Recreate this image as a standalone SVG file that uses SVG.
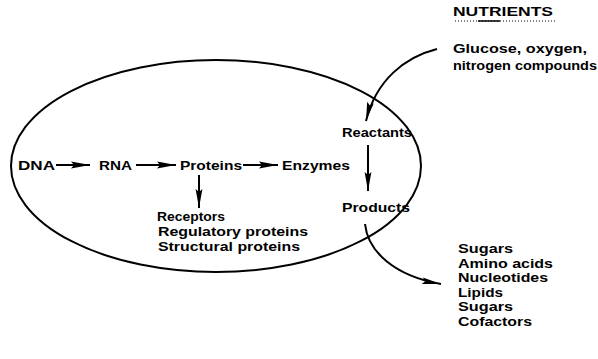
<svg xmlns="http://www.w3.org/2000/svg" width="598" height="359" viewBox="0 0 598 359">
<style>
text{font-family:"Liberation Sans",Arial,sans-serif;font-weight:bold;font-size:13px;fill:#000}
.ln{fill:none;stroke:#000;stroke-width:2}
</style>
<defs>
<marker id="ah" viewBox="0 0 20 8" refX="20" refY="4" markerWidth="20" markerHeight="8" markerUnits="userSpaceOnUse" orient="auto">
<path d="M20,4 L1,0.6 L4,4 L1,7.4 Z" fill="#000"/>
</marker>
</defs>
<rect width="598" height="359" fill="#fff"/>
<g id="cell"><ellipse cx="216" cy="166" rx="205" ry="106" class="ln"/></g>
<g id="nutrients"><text x="453" y="16" textLength="100" lengthAdjust="spacingAndGlyphs">NUTRIENTS</text>
<line x1="455" y1="21" x2="555" y2="21" stroke="#000" stroke-width="1" stroke-dasharray="1,2"/>
<line x1="478" y1="21" x2="500" y2="21" stroke="#000" stroke-width="1.5"/></g>
<g id="inputs"><text x="453" y="53" textLength="134" lengthAdjust="spacingAndGlyphs">Glucose, oxygen,</text>
<text x="453" y="70" textLength="144" lengthAdjust="spacingAndGlyphs">nitrogen compounds</text></g>
<g id="dna"><text x="18" y="170" textLength="37" lengthAdjust="spacingAndGlyphs">DNA</text></g>
<g id="rna"><text x="99" y="170" textLength="33" lengthAdjust="spacingAndGlyphs">RNA</text></g>
<g id="proteins"><text x="180" y="170" textLength="62" lengthAdjust="spacingAndGlyphs">Proteins</text></g>
<g id="enzymes"><text x="282" y="170" textLength="68" lengthAdjust="spacingAndGlyphs">Enzymes</text></g>
<g id="reactants"><text x="342" y="137" textLength="70" lengthAdjust="spacingAndGlyphs">Reactants</text></g>
<g id="products"><text x="342" y="212" textLength="68" lengthAdjust="spacingAndGlyphs">Products</text></g>
<g id="protein-types"><text x="157" y="221" textLength="68" lengthAdjust="spacingAndGlyphs">Receptors</text>
<text x="158" y="236" textLength="150" lengthAdjust="spacingAndGlyphs">Regulatory proteins</text>
<text x="158" y="251" textLength="142" lengthAdjust="spacingAndGlyphs">Structural proteins</text></g>
<g id="outputs"><text x="458" y="253" textLength="55" lengthAdjust="spacingAndGlyphs">Sugars</text>
<text x="458" y="268" textLength="95" lengthAdjust="spacingAndGlyphs">Amino acids</text>
<text x="458" y="282" textLength="90" lengthAdjust="spacingAndGlyphs">Nucleotides</text>
<text x="458" y="297" textLength="45" lengthAdjust="spacingAndGlyphs">Lipids</text>
<text x="458" y="311" textLength="55" lengthAdjust="spacingAndGlyphs">Sugars</text>
<text x="458" y="326" textLength="74" lengthAdjust="spacingAndGlyphs">Cofactors</text></g>
<g id="connectors">
<line x1="56" y1="165" x2="90" y2="165" class="ln" marker-end="url(#ah)"/>
<line x1="136" y1="165" x2="176" y2="165" class="ln" marker-end="url(#ah)"/>
<line x1="243" y1="165" x2="278" y2="165" class="ln" marker-end="url(#ah)"/>
<line x1="199" y1="175" x2="199" y2="208" class="ln" marker-end="url(#ah)"/>
<line x1="368" y1="145" x2="368" y2="191" class="ln" marker-end="url(#ah)"/>
<path d="M437,49 C405,57 376,80 366,121" class="ln" marker-end="url(#ah)"/>
<path d="M365,224 C368,252 395,276 441,284" class="ln" marker-end="url(#ah)"/>
</g>
</svg>
